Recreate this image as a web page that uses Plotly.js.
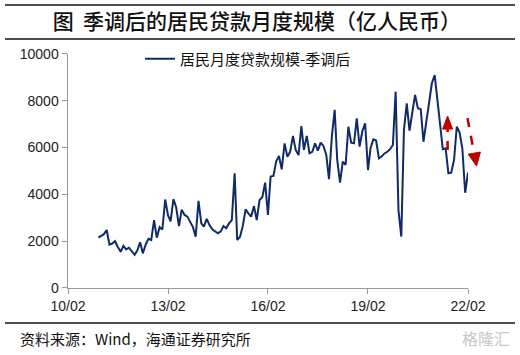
<!DOCTYPE html>
<html><head><meta charset="utf-8">
<script src="https://cdn.plot.ly/plotly-3.0.1.min.js"></script>
<style>
html,body{margin:0;padding:0;background:#fff;}
#chart{width:520px;height:355px;}
</style>
</head><body><div id="chart"></div>
<script>
const startMonth = [2011, 1];
const loanValues = [
 2150,2250,2300,2480,1850,1900,2000,1750,1550,1800,1650,1720,
 1550,1420,1600,1950,1480,1850,2100,2050,2900,2150,2600,2500,
 3780,3100,2850,3800,3450,2650,3350,3120,3050,2830,2600,2190,
 3720,2760,2620,2950,2690,2510,2420,2340,2410,2650,2550,2760,
 2900,4900,2050,2190,2650,3360,3190,3050,3500,2900,3760,3880,
 4500,3120,4760,4790,5400,5640,5070,6180,5610,5820,6500,5900,
 5680,6920,5900,6500,5760,5820,6180,5870,6210,6070,5680,4650,
 6470,7610,5470,4500,5400,5260,6890,6210,6180,7250,6040,6700,
 7040,5040,5970,6350,6300,5540,5620,5750,5820,5930,6110,8390,
 3330,2190,6750,7890,6720,7610,8250,7680,7640,6250,7110,8030,
 8750,9100,8030,6890,5930,5970,4900,4930,5470,6890,6640,5970,
 4070,4930
];
const xTickVals = ['2010-02-01','2013-02-01','2016-02-01','2019-02-01','2022-02-01'];
const xTickText = ['10/02','13/02','16/02','19/02','22/02'];
const yTickVals = [0,2000,4000,6000,8000,10000];
const yTickText = ['0','2000','4000','6000','8000','10000'];
const seriesName = '居民月度贷款规模-季调后';
const titleText = '图&nbsp;&nbsp;季调后的居民贷款月度规模（亿人民币）';
const sourceText = '资料来源：Wind，海通证券研究所';
const watermarkText = '格隆汇';

const months = loanValues.map((v,i)=>{
  const t = startMonth[1]-1+i;
  const y = startMonth[0]+Math.floor(t/12);
  const m = t%12+1;
  return y+'-'+String(m).padStart(2,'0')+'-01';
});

const cjk = '"Noto Sans CJK SC", sans-serif';
const lat = '"Liberation Sans", Arial, sans-serif';
const red = '#C00000';

const trace = {
  x: months, y: loanValues, type: 'scatter', mode: 'lines', name: seriesName,
  line: {color: '#102B6A', width: 2}
};

const rule = (yp) => ({type:'line', xref:'paper', yref:'paper', layer:'above',
  x0:-0.1575, x1:1.1175, y0:yp, y1:yp, line:{color:'#111', width:1.5}});

const shapes = [
  rule(0.9915), rule(0.8946), rule(0.0855),
  {type:'line', xref:'paper', yref:'paper', x0:0.949, x1:0.949, y0:0.5785, y1:0.6385, line:{color:red, width:2.5, dash:'dash'}},
  {type:'path', xref:'paper', yref:'paper', path:'M 0.9365 0.6379 L 0.9615 0.6379 L 0.949 0.6752 Z', fillcolor:red, line:{color:red, width:1}},
  {type:'line', xref:'paper', yref:'paper', x0:0.99875, x1:1.015, y0:0.6692, y1:0.5705, line:{color:red, width:2.5, dash:'dash'}},
  {type:'path', xref:'paper', yref:'paper', path:'M 1.0005 0.5665 L 1.031 0.5725 L 1.0215 0.5325 Z', fillcolor:red, line:{color:red, width:1}}
];

const layout = {
  width: 520, height: 355,
  margin: {l: 68, r: 52, t: 2, b: 2},
  paper_bgcolor: '#fff', plot_bgcolor: '#fff',
  showlegend: true,
  legend: {x: 0.18, y: 0.8376, xanchor: 'left', yanchor: 'middle', bgcolor: 'rgba(0,0,0,0)',
           font: {family: cjk, size: 15, color: '#111'}},
  title: {text: titleText, xref: 'container', yref: 'container', x: 0.494, xanchor: 'center',
          y: 0.94, yanchor: 'middle', font: {family: cjk, size: 21, color: '#111', weight: 500}},
  xaxis: {type: 'date', range: ['2010-02-01','2022-02-01'], tickvals: xTickVals, ticktext: xTickText,
          showline: true, linecolor: '#999', linewidth: 1.5, ticks: 'outside', ticklen: 5, tickcolor: '#999',
          showgrid: false, zeroline: false, tickfont: {family: lat, size: 14, color: '#222'}, fixedrange: true},
  yaxis: {domain: [0.1852, 0.8519], range: [0, 10000], tickvals: yTickVals, ticktext: yTickText,
          showline: true, linecolor: '#999', linewidth: 1.5,
          ticks: 'outside', ticklen: 5, tickcolor: '#999', showgrid: false, zeroline: false,
          tickfont: {family: lat, size: 14, color: '#222'}, fixedrange: true},
  shapes: shapes,
  annotations: [
    {text: sourceText, xref: 'paper', yref: 'paper', x: -0.125, y: 0.0427, xanchor: 'left', yanchor: 'middle',
     showarrow: false, font: {family: cjk, size: 15, color: '#111'}},
    {text: watermarkText, xref: 'paper', yref: 'paper', x: 1.11, y: 0.0427, xanchor: 'right', yanchor: 'middle',
     showarrow: false, font: {family: cjk, size: 16, color: '#c8c8c8'}}
  ]
};

Plotly.newPlot('chart', [trace], layout, {displayModeBar: false, staticPlot: true});
</script></body></html>
